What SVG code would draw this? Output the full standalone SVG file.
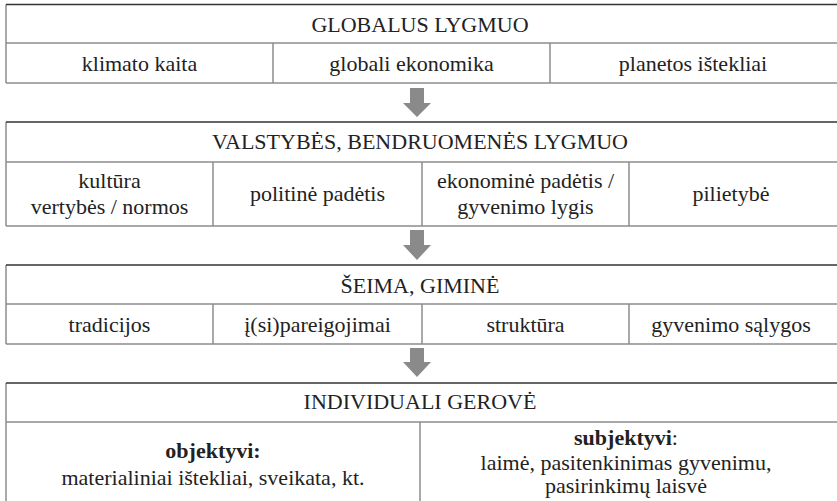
<svg xmlns="http://www.w3.org/2000/svg" width="837" height="501" viewBox="0 0 837 501" font-family="Liberation Serif, DejaVu Serif, serif">
<style>
.bg{fill:#ffffff}
.top{stroke:#333333;stroke-width:1.3;fill:none}
.ln{stroke:#8c8c8c;stroke-width:1.5;fill:none}
text{font-size:22px;fill:#222222;text-anchor:middle}
.b{font-weight:bold}
.arrow{fill:#8a8a8a}
</style>
<rect class="bg" x="0" y="0" width="837" height="501"/>
<g id="global">
<line class="ln" x1="6" y1="4.5" x2="6" y2="83"/>
<line class="ln" x1="6" y1="43" x2="837" y2="43"/>
<line class="ln" x1="6" y1="83" x2="837" y2="83"/>
<line class="ln" x1="273" y1="43" x2="273" y2="83"/>
<line class="ln" x1="550" y1="43" x2="550" y2="83"/>
<line class="top" x1="6" y1="4.5" x2="837" y2="4.5"/>
<text x="420" y="32">GLOBALUS LYGMUO</text>
<text x="139.5" y="71">klimato kaita</text>
<text x="411.5" y="71">globali ekonomika</text>
<text x="693" y="71">planetos ištekliai</text>
</g>
<g id="state">
<line class="ln" x1="6" y1="122" x2="6" y2="226"/>
<line class="ln" x1="6" y1="162" x2="837" y2="162"/>
<line class="ln" x1="6" y1="226" x2="837" y2="226"/>
<line class="ln" x1="213" y1="162" x2="213" y2="226"/>
<line class="ln" x1="422" y1="162" x2="422" y2="226"/>
<line class="ln" x1="629" y1="162" x2="629" y2="226"/>
<line class="top" x1="6" y1="122" x2="837" y2="122"/>
<text x="420" y="149">VALSTYBĖS, BENDRUOMENĖS LYGMUO</text>
<text x="109.5" y="188">kultūra</text>
<text x="109.5" y="214">vertybės / normos</text>
<text x="317.5" y="201">politinė padėtis</text>
<text x="525.5" y="188">ekonominė padėtis /</text>
<text x="525.5" y="214">gyvenimo lygis</text>
<text x="731" y="201">pilietybė</text>
</g>
<g id="family">
<line class="ln" x1="6" y1="265" x2="6" y2="344"/>
<line class="ln" x1="6" y1="304" x2="837" y2="304"/>
<line class="ln" x1="6" y1="344" x2="837" y2="344"/>
<line class="ln" x1="213" y1="304" x2="213" y2="344"/>
<line class="ln" x1="422" y1="304" x2="422" y2="344"/>
<line class="ln" x1="629" y1="304" x2="629" y2="344"/>
<line class="top" x1="6" y1="265" x2="837" y2="265"/>
<text x="420" y="293">ŠEIMA, GIMINĖ</text>
<text x="109.5" y="332">tradicijos</text>
<text x="317.5" y="332">į(si)pareigojimai</text>
<text x="525.5" y="332">struktūra</text>
<text x="731" y="332">gyvenimo sąlygos</text>
</g>
<g id="individual">
<line class="ln" x1="6" y1="383" x2="6" y2="502"/>
<line class="ln" x1="6" y1="422" x2="837" y2="422"/>
<line class="ln" x1="420" y1="422" x2="420" y2="502"/>
<line class="top" x1="6" y1="383" x2="837" y2="383"/>
<text x="420" y="409">INDIVIDUALI GEROVĖ</text>
<text class="b" x="213" y="458">objektyvi:</text>
<text x="213" y="485">materialiniai ištekliai, sveikata, kt.</text>
<text x="626" y="445"><tspan class="b">subjektyvi</tspan>:</text>
<text x="626" y="470">laimė, pasitenkinimas gyvenimu,</text>
<text x="626" y="493">pasirinkimų laisvė</text>
</g>
<g id="connectors">
<polygon class="arrow" points="410,88 424,88 424,103 431,103 417,117 403,103 410,103"/>
<polygon class="arrow" points="410,230 424,230 424,245 431,245 417,260 403,245 410,245"/>
<polygon class="arrow" points="410,348 424,348 424,362 431,362 417,377 403,362 410,362"/>
</g>
</svg>
